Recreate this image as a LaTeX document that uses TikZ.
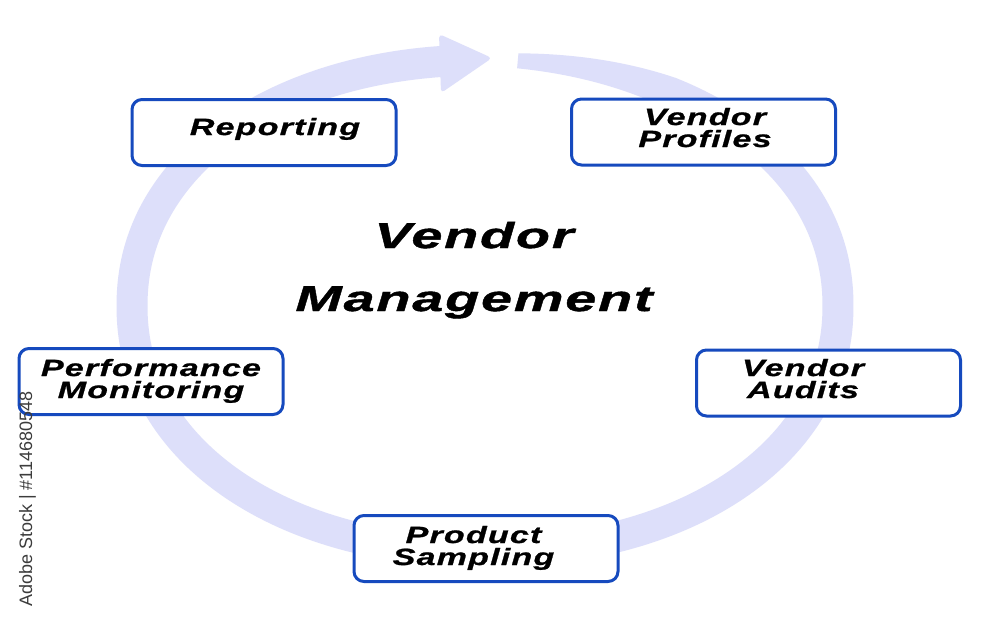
\documentclass[tikz,border=0pt]{standalone}
\usepackage{fontspec}
\setmainfont{Liberation Sans}
\newfontfamily\vfont[FakeStretch=1.45,LetterSpace=5,FakeBold=1]{Liberation Sans}
\newfontfamily\tfont[FakeStretch=1.55,LetterSpace=5,FakeBold=1.2]{Liberation Sans}
\definecolor{ring}{RGB}{221,223,250}
\definecolor{boxblue}{RGB}{22,74,190}
\definecolor{wm}{RGB}{60,60,60}
\tikzset{
  box/.style={draw=boxblue,line width=3pt,rounded corners=10pt,fill=white,
    minimum width=264pt,minimum height=66pt,inner sep=0pt},
  lab/.style={font=\vfont\bfseries\itshape\fontsize{23.5}{22}\selectfont,
    align=center,inner sep=0pt,anchor=base},
  ttl/.style={font=\tfont\bfseries\itshape\fontsize{36}{63}\selectfont,
    align=center,inner sep=0pt,anchor=base},
  wmark/.style={font=\fontsize{18}{18}\selectfont,text=wm,inner sep=0pt}
}
\begin{document}
\begin{tikzpicture}[x=1pt,y=-1pt,
  declare function={
    C(\t)=cos(\t)*pow(abs(cos(\t))+0.00001,-0.05);
    S(\t)=sin(\t)*pow(abs(sin(\t))+0.00001,-0.05);
    W(\t)=(\t>60)*(15+16*(85.3-\t)/25.3)+(\t<=60)*31;
  }]
\useasboundingbox (0,0) rectangle (1000,622);
\fill[white] (0,0) rectangle (1000,622);
% ring band
\fill[ring] plot[domain=85.3:-264.5,samples=320,variable=\t]
   ({485+(353+W(\t)/2)*C(\t)},{306-(246+W(\t)/2)*S(\t)})
   -- plot[domain=-264.5:85.3,samples=320,variable=\t]
   ({485+(353-W(\t)/2)*C(\t)},{306-(246-W(\t)/2)*S(\t)}) -- cycle;
% arrow head
\fill[ring,rounded corners=4pt] (439,34) -- (492,58) -- (441,93) -- cycle;
% boxes
\node[box] (rep)  at (264,132.5) {};
\node[box] (prof) at (703.5,132) {};
\node[box] (perf) at (151,381.5) {};
\node[box] (aud)  at (828.5,383) {};
\node[box] (prod) at (486,548.5) {};
% labels
\node[lab] (repl)  at (275,135) {Reporting};
\node[lab] (profl) at (705,147) {Vendor\\Profiles};
\node[lab] (perfl) at (151,398) {Performance\\Monitoring};
\node[lab] (audl)  at (803,398) {Vendor\\Audits};
\node[lab] (prodl) at (473.5,565) {Product\\Sampling};
\node[ttl] (title) at (474,311) {Vendor\\Management};
% watermark
\node[wmark,rotate=90,anchor=base west] (wmk) at (32,607) {Adobe Stock | \#114680548};
\end{tikzpicture}
\end{document}
